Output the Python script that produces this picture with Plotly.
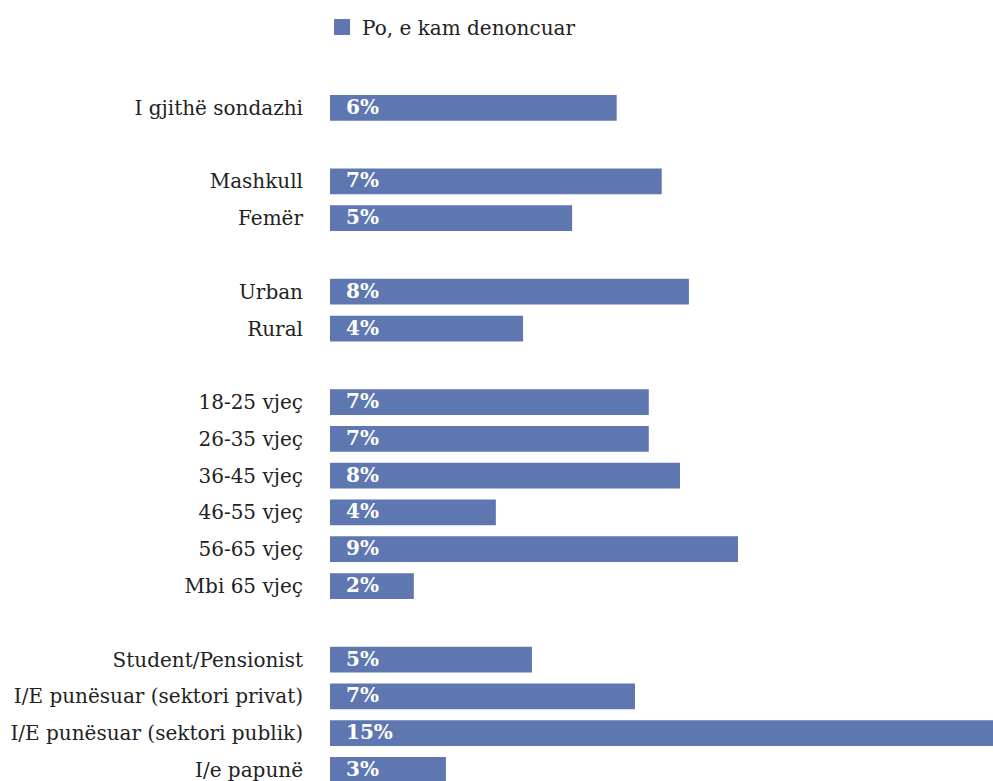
import plotly.graph_objects as go

# Data (groups separated by blank rows)
group_labels = [
    ["I gjithë sondazhi"],
    ["Mashkull", "Femër"],
    ["Urban", "Rural"],
    ["18-25 vjeç", "26-35 vjeç", "36-45 vjeç", "46-55 vjeç", "56-65 vjeç", "Mbi 65 vjeç"],
    ["Student/Pensionist", "I/E punësuar (sektori privat)", "I/E punësuar (sektori publik)", "I/e papunë"],
]
group_values = [
    [6.43],
    [7.44, 5.43],
    [8.05, 4.33],
    [7.15, 7.15, 7.85, 3.72, 9.15, 1.88],
    [4.53, 6.84, 15.0, 2.6],
]
group_text = [
    ["6%"],
    ["7%", "5%"],
    ["8%", "4%"],
    ["7%", "7%", "8%", "4%", "9%", "2%"],
    ["5%", "7%", "15%", "3%"],
]
series_name = "Po, e kam denoncuar"

cats, vals, texts = [], [], []
order = []
for gi, (labs, vs, ts) in enumerate(zip(group_labels, group_values, group_text)):
    if gi > 0:
        order.append(" " * gi)
    order.extend(labs)
    cats.extend(labs)
    vals.extend(vs)
    texts.extend(ts)

color = "#5E77B0"
font = "DejaVu Serif"
txt_color = "#222222"

fig = go.Figure()
fig.add_trace(go.Bar(
    y=cats, x=vals, orientation="h", name=series_name,
    marker=dict(color=color, line=dict(width=0)),
    width=0.7, showlegend=False, hoverinfo="skip",
))
# legend entry with a larger swatch
fig.add_trace(go.Scatter(
    x=[None], y=[None], mode="markers", name=series_name,
    marker=dict(symbol="square", size=18, color=color),
    showlegend=True, hoverinfo="skip",
))
for c, t in zip(cats, texts):
    fig.add_annotation(x=0, y=c, text="<b>" + t + "</b>", showarrow=False,
                       xanchor="left", xshift=14, yshift=1,
                       font=dict(family=font, size=20, color="white"))

n = len(order)
fig.update_layout(
    width=993, height=781,
    margin=dict(l=330, r=0, t=0, b=0),
    paper_bgcolor="white", plot_bgcolor="white",
    font=dict(family=font, size=20, color=txt_color),
    legend=dict(x=-0.012, y=0.9654, xanchor="left", yanchor="middle",
                font=dict(family=font, size=20, color=txt_color),
                itemwidth=30, bgcolor="rgba(0,0,0,0)"),
    xaxis=dict(range=[0, 14.87], showgrid=False, zeroline=False,
               showticklabels=False, showline=False, ticks=""),
    yaxis=dict(categoryorder="array", categoryarray=order,
               range=[n - 1 + 0.3, -2.93], showgrid=False, zeroline=False,
               showline=False, ticks="", ticklabelstandoff=26,
               tickfont=dict(family=font, size=20, color=txt_color)),
)
fig.write_html(
    "out.html",
    config={"displayModeBar": False},
    post_script="document.body.style.margin='0';document.body.style.overflow='hidden';",
)
